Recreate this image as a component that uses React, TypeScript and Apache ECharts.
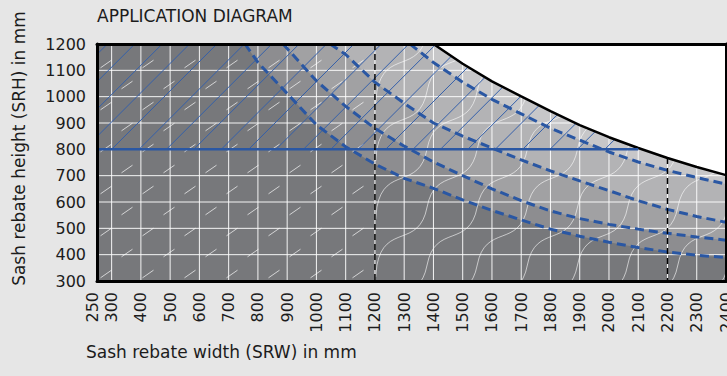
import React, { useEffect, useRef } from "react";
import * as echarts from "echarts";

// ---- axis ranges & ticks ----
const X_MIN = 250;
const X_MAX = 2400;
const Y_MIN = 300;
const Y_MAX = 1200;
const xTickLabels = [250, 300, 400, 500, 600, 700, 800, 900, 1000, 1100, 1200, 1300, 1400, 1500, 1600, 1700, 1800, 1900, 2000, 2100, 2200, 2300, 2400];
const yTickLabels = [300, 400, 500, 600, 700, 800, 900, 1000, 1100, 1200];
const xGridLines = [300, 400, 500, 600, 700, 800, 900, 1000, 1100, 1200, 1300, 1400, 1500, 1600, 1700, 1800, 1900, 2000, 2100, 2200, 2300];
const yGridLines = [400, 500, 600, 700, 800, 900, 1000, 1100];

// ---- curves [SRW, SRH] ----
const limitCurve = [[1400, 1200], [1500, 1125], [1600, 1058], [1700, 1001], [1800, 945], [1900, 892], [2000, 846], [2100, 805], [2200, 767], [2300, 733], [2400, 702]];
const curveA = [[1320, 1200], [1400, 1130], [1500, 1055], [1600, 990], [1700, 935], [1800, 880], [1900, 835], [2000, 790], [2100, 752], [2200, 720], [2300, 693], [2400, 668]];
const curveB = [[1047, 1200], [1100, 1160], [1200, 1055], [1300, 975], [1400, 900], [1500, 850], [1600, 805], [1700, 760], [1800, 718], [1900, 680], [2000, 643], [2100, 605], [2200, 572], [2300, 545], [2400, 523]];
const curveC = [[886, 1200], [900, 1183], [1000, 1060], [1100, 963], [1200, 880], [1300, 812], [1400, 752], [1500, 700], [1600, 650], [1700, 605], [1800, 566], [1900, 537], [2000, 515], [2100, 497], [2200, 481], [2300, 467], [2400, 455]];
const curveD = [[756, 1200], [800, 1130], [900, 1012], [1000, 893], [1100, 810], [1200, 744], [1300, 690], [1400, 652], [1500, 608], [1600, 568], [1700, 532], [1800, 497], [1900, 470], [2000, 447], [2100, 427], [2200, 410], [2300, 398], [2400, 389]];

const heightLine = [[250, 800], [2100, 800]];
const vMark1200 = [[1200, 1200], [1200, 300]];
const vMark2200 = [[2200, 767], [2200, 300]];
const zoneSplitX = 1200;
const hatchFromY = 800;

const bandColors = ["#c7c7c9", "#b3b3b5", "#a1a1a3", "#8d8d90", "#77787b"];
const FONT = '"DejaVu Sans", sans-serif';
const BLUE = "#2a57a3";
const TEXT = "#1c1c1c";

function buildOption(): any {
  const withTop = (c: number[][]) => [[X_MIN, Y_MAX], ...c];
  const bands = [limitCurve, curveA, curveB, curveC, curveD].map((c, i) => ({
    type: "line",
    data: withTop(c),
    symbol: "none",
    silent: true,
    z: 2,
    lineStyle: { opacity: 0, width: 0 },
    areaStyle: { color: bandColors[i], opacity: 1, origin: "start" },
  }));

  const gridLines = {
    type: "custom",
    silent: true,
    clip: true,
    z: 3,
    data: [[X_MIN, Y_MIN]],
    encode: { x: 0, y: 1 },
    renderItem: (_p: any, api: any) => {
      const ch: any[] = [];
      const st = { stroke: "rgba(255,255,255,0.92)", lineWidth: 1, fill: "none" };
      xGridLines.forEach((x) => {
        const a = api.coord([x, Y_MIN]);
        const b = api.coord([x, Y_MAX]);
        ch.push({ type: "line", shape: { x1: a[0], y1: a[1], x2: b[0], y2: b[1] }, style: st });
      });
      yGridLines.forEach((y) => {
        const a = api.coord([X_MIN, y]);
        const b = api.coord([X_MAX, y]);
        ch.push({ type: "line", shape: { x1: a[0], y1: a[1], x2: b[0], y2: b[1] }, style: st });
      });
      return { type: "group", children: ch };
    },
  };

  const patterns = {
    type: "custom",
    silent: true,
    clip: true,
    z: 4,
    data: [[X_MIN, Y_MIN]],
    encode: { x: 0, y: 1 },
    renderItem: (_p: any, api: any) => {
      const ch: any[] = [];
      const [xl, yb] = api.coord([X_MIN, Y_MIN]);
      const [xs] = api.coord([zoneSplitX, Y_MIN]);
      const [xr, yt] = api.coord([X_MAX, Y_MAX]);
      const dashStyle = { stroke: "rgba(255,255,255,0.68)", lineWidth: 1, fill: "none" };
      // short diagonal dashes, left zone
      for (let r = 0; ; r++) {
        const cy = yb - 7 - r * 21;
        if (cy < yt + 3) break;
        const off = r % 2 ? 21 : 0;
        for (let cx = xl + 9 + off; cx < xs - 6; cx += 42) {
          ch.push({ type: "line", shape: { x1: cx - 5.5, y1: cy + 3.8, x2: cx + 5.5, y2: cy - 3.8 }, style: dashStyle });
        }
      }
      // waves, right zone
      const W = (xr - xs) / 7;
      const H = 58;
      const y0 = yb - 16;
      const a = 8;
      const b = 42;
      const waveStyle = { stroke: "rgba(255,255,255,0.6)", lineWidth: 1, fill: "none" };
      for (let j = -1; j <= 5; j++) {
        const my = y0 - j * H;
        for (let k = 0; k <= 7; k++) {
          const mx = xs + 2 + k * W;
          ch.push({
            type: "bezierCurve",
            shape: { x1: mx, y1: my, cpx1: mx + a, cpy1: my - b, cpx2: mx + W - a, cpy2: my - H + b, x2: mx + W, y2: my - H },
            style: waveStyle,
          });
        }
        ch.push({ type: "line", shape: { x1: xs + 0.8, y1: my + 12, x2: xs + 2, y2: my }, style: waveStyle });
      }
      return { type: "group", children: ch };
    },
  };

  const hatch = {
    type: "custom",
    silent: true,
    clip: true,
    z: 5,
    data: [[X_MIN, Y_MIN]],
    encode: { x: 0, y: 1 },
    renderItem: (_p: any, api: any) => {
      const ch: any[] = [];
      const [xl] = api.coord([X_MIN, Y_MIN]);
      const [xr, yt] = api.coord([X_MAX, Y_MAX]);
      const [x300, y8] = api.coord([300, hatchFromY]);
      const S = 27.4;
      const span = y8 - yt;
      const st = { stroke: "#3560aa", lineWidth: 1, fill: "none" };
      for (let k = -6; k < 40; k++) {
        const bx = x300 + k * S;
        let x1 = bx, y1 = y8, x2 = bx + span, y2 = yt;
        if (x2 < xl || x1 > xr) continue;
        if (x1 < xl) { y1 = y8 - (xl - bx); x1 = xl; }
        if (x2 > xr) { y2 = y8 - (xr - bx); x2 = xr; }
        ch.push({ type: "line", shape: { x1, y1, x2, y2 }, style: st });
      }
      return { type: "group", children: ch };
    },
  };

  const whiteRegion = {
    type: "line",
    data: limitCurve,
    symbol: "none",
    silent: true,
    z: 6,
    lineStyle: { color: "#000", width: 2.5 },
    areaStyle: { color: "#ffffff", opacity: 1, origin: "end" },
  };

  const dashed = [curveA, curveB, curveC, curveD].map((c) => ({
    type: "line",
    data: c,
    symbol: "none",
    silent: true,
    z: 7,
    lineStyle: { color: BLUE, width: 3, type: [9, 5] },
  }));

  const solid800 = {
    type: "line",
    data: heightLine,
    symbol: "none",
    silent: true,
    z: 7,
    lineStyle: { color: BLUE, width: 2.5 },
  };

  const vMarks = [vMark1200, vMark2200].map((d) => ({
    type: "line",
    data: d,
    symbol: "none",
    silent: true,
    z: 7,
    lineStyle: { color: "#000", width: 1.5, type: [6, 4] },
  }));

  const axisLine = { show: true, onZero: false, lineStyle: { color: "#000", width: 3 } };
  const labelBase = { fontSize: 16, fontFamily: FONT, color: TEXT };

  return {
    animation: false,
    backgroundColor: "#e6e6e6",
    grid: [
      { left: 97, right: 1, top: 44, bottom: 95, show: true, backgroundColor: "#ffffff", borderWidth: 0, outerBoundsMode: "none" },
      // twin grid carrying only the first (250) tick label, nudged left as in the original
      { left: 92, right: 6, top: 44, bottom: 95, show: false, outerBoundsMode: "none" },
    ],
    xAxis: [
      {
        type: "value", gridIndex: 0, min: X_MIN, max: X_MAX, interval: 50, position: "bottom", z: 10,
        axisLine, axisTick: { show: false }, splitLine: { show: false },
        axisLabel: {
          ...labelBase, rotate: 90, margin: 11, showMinLabel: false, showMaxLabel: true, hideOverlap: false,
          formatter: (v: number) => (v !== xTickLabels[0] && xTickLabels.indexOf(v) >= 0 ? String(v) : ""),
        },
      },
      {
        type: "value", gridIndex: 0, min: X_MIN, max: X_MAX, position: "top", z: 10,
        axisLine, axisTick: { show: false }, splitLine: { show: false }, axisLabel: { show: false },
      },
      {
        type: "value", gridIndex: 1, min: X_MIN, max: X_MAX, interval: 50, position: "bottom", z: 10,
        axisLine: { show: false }, axisTick: { show: false }, splitLine: { show: false },
        axisLabel: {
          ...labelBase, rotate: 90, margin: 11, showMinLabel: true, showMaxLabel: false, hideOverlap: false,
          formatter: (v: number) => (v === xTickLabels[0] ? String(v) : ""),
        },
      },
    ],
    yAxis: [
      {
        type: "value", gridIndex: 0, min: Y_MIN, max: Y_MAX, interval: 100, position: "left", z: 10,
        axisLine, axisTick: { show: false }, splitLine: { show: false },
        axisLabel: { ...labelBase, margin: 11, showMinLabel: true, showMaxLabel: true, formatter: (v: number) => (yTickLabels.indexOf(v) >= 0 ? String(v) : "") },
      },
      {
        type: "value", gridIndex: 0, min: Y_MIN, max: Y_MAX, position: "right", z: 10,
        axisLine, axisTick: { show: false }, splitLine: { show: false }, axisLabel: { show: false },
      },
      {
        type: "value", gridIndex: 1, min: Y_MIN, max: Y_MAX, show: false,
      },
    ],
    graphic: [
      { type: "text", x: 97, y: 16, style: { text: "APPLICATION DIAGRAM", fontSize: 17, fontFamily: FONT, fill: TEXT, textAlign: "left", textVerticalAlign: "middle" } },
      { type: "text", x: 86, y: 352, style: { text: "Sash rebate width (SRW) in mm", fontSize: 17, fontFamily: FONT, fill: TEXT, textAlign: "left", textVerticalAlign: "middle" } },
      { type: "text", x: 18.5, y: 148.5, rotation: Math.PI / 2, style: { text: "Sash rebate height (SRH) in mm", fontSize: 17, fontFamily: FONT, fill: TEXT, textAlign: "center", textVerticalAlign: "middle" } },
    ],
    series: [...bands, gridLines, patterns, hatch, whiteRegion, ...dashed, solid800, ...vMarks],
  };
}

export default function App() {
  const ref = useRef<HTMLDivElement>(null);
  useEffect(() => {
    if (!ref.current) return;
    const chart = echarts.init(ref.current, null, { renderer: "svg" });
    chart.setOption(buildOption());
    return () => chart.dispose();
  }, []);
  return (
    <div
      ref={ref}
      style={{ position: "fixed", left: 0, top: 0, width: 727, height: 376, background: "#e6e6e6" }}
    />
  );
}
